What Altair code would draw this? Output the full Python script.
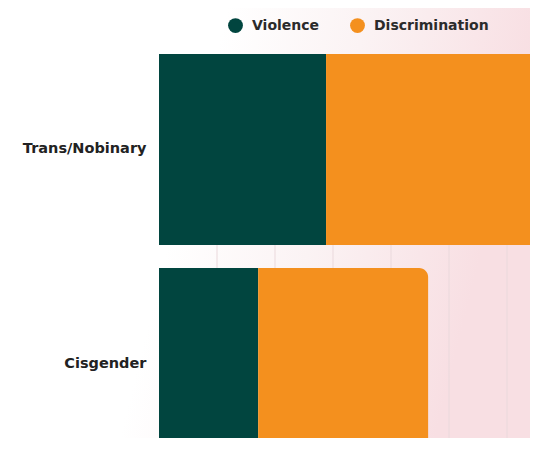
import altair as alt
import pandas as pd

categories = ["Trans/Nobinary", "Cisgender"]
violence = [28.8, 17.1]
discrimination = [45.0, 29.3]
series = ["Violence", "Discrimination"]
colors = ["#01453f", "#f4901e"]
grid_ticks = [10, 20, 30, 40, 50, 60, 70, 80, 90]

rows = []
for c, v, d in zip(categories, violence, discrimination):
    rows.append({"category": c, "type": "Violence", "start": 0, "end": v})
    rows.append({"category": c, "type": "Discrimination", "start": v, "end": v + d})
df = pd.DataFrame(rows)
grid_df = pd.DataFrame({"t": grid_ticks})

W, H = 371, 384
PADL, PADT = 151, 46

xscale = alt.Scale(domain=[0, 100], range=[0, 580])
yscale = alt.Scale(domain=categories, range=[0, 405], paddingInner=0.1075, paddingOuter=0)
cscale = alt.Scale(domain=series, range=colors)

bg_grad = alt.LinearGradient(
    gradient="linear",
    x1=0.42, y1=0, x2=1, y2=0.12,
    stops=[alt.GradientStop(color="#ffffff", offset=0),
           alt.GradientStop(color="#fbf3f4", offset=0.45),
           alt.GradientStop(color="#f8dfe3", offset=1)],
)

background = alt.Chart(pd.DataFrame({"a": [0]})).mark_rect(fill=bg_grad, clip=False).encode(
    x=alt.value(-PADL), x2=alt.value(W), y=alt.value(-PADT), y2=alt.value(H)
)

grid = alt.Chart(grid_df).mark_rule(color="#ead9dc", strokeWidth=1).encode(
    x=alt.X("t:Q", scale=xscale, axis=None)
)

base = alt.Chart(df)
yenc = alt.Y("category:N", scale=yscale, sort=categories,
             axis=alt.Axis(title=None, domain=False, ticks=False, labelPadding=13,
                           labelFont="DejaVu Sans", labelFontWeight="bold",
                           labelFontSize=14.5, labelColor="#222222", zindex=1, grid=False))
cenc = alt.Color("type:N", scale=cscale, sort=series,
                 legend=alt.Legend(title=None, orient="none", direction="horizontal",
                                   legendX=69, legendY=-36, symbolType="circle",
                                   symbolSize=220, symbolStrokeWidth=0, labelFont="DejaVu Sans",
                                   labelFontWeight="bold", labelFontSize=14,
                                   labelColor="#2b2b2b", labelOffset=9, columnPadding=30,
                                   padding=0))

viol = base.transform_filter(alt.datum.type == "Violence").mark_bar(clip=True).encode(
    x=alt.X("start:Q", scale=xscale, axis=None), x2="end:Q", y=yenc, color=cenc
)
disc = base.transform_filter(alt.datum.type == "Discrimination").mark_bar(
    clip=True, cornerRadiusTopRight=9, cornerRadiusBottomRight=9
).encode(
    x=alt.X("start:Q", scale=xscale, axis=None), x2="end:Q", y=yenc, color=cenc
)

chart = alt.layer(background, grid, viol, disc).properties(
    width=W, height=H,
    padding={"left": PADL, "top": PADT, "right": 0, "bottom": 0},
    autosize=alt.AutoSizeParams(type="none"),
).configure_view(stroke=None).configure(background="#ffffff")

chart.save("out.html", embed_options={"renderer": "svg", "actions": False})
